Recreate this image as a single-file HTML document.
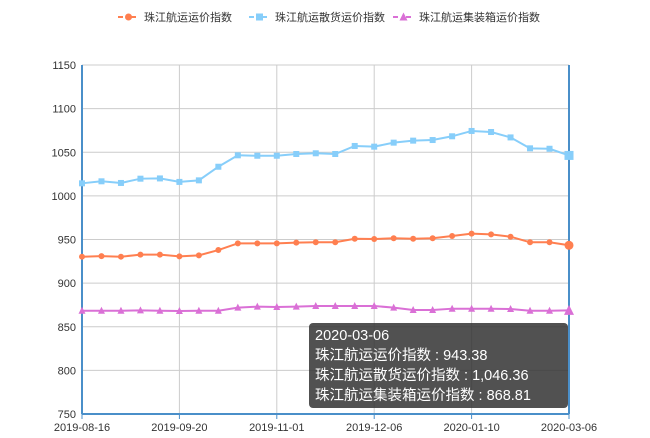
<!DOCTYPE html>
<html><head><meta charset="utf-8">
<style>
html,body{margin:0;padding:0;background:#fff;}
body{width:650px;height:438px;overflow:hidden;position:relative;font-family:"Liberation Sans","Noto Sans CJK SC",sans-serif;}
#tip{position:absolute;left:309px;top:323px;width:259px;height:85px;background:rgba(50,50,50,0.85);border-radius:4px;color:#fff;font-size:14.5px;line-height:20px;padding:3px 0 0 6px;box-sizing:border-box;}
</style></head><body>
<svg id="chart" width="650" height="438" xmlns="http://www.w3.org/2000/svg" style="position:absolute;left:0;top:0;font-family:'Liberation Sans','Noto Sans CJK SC',sans-serif;"></svg>
<div id="tip">2020-03-06<br>珠江航运运价指数 : 943.38<br>珠江航运散货运价指数 : 1,046.36<br>珠江航运集装箱运价指数 : 868.81</div>
<script>
const categories=["2019-08-16","2019-08-23","2019-08-30","2019-09-06","2019-09-13","2019-09-20","2019-09-27","2019-10-11","2019-10-18","2019-10-25","2019-11-01","2019-11-08","2019-11-15","2019-11-22","2019-11-29","2019-12-06","2019-12-13","2019-12-20","2019-12-27","2020-01-03","2020-01-10","2020-01-17","2020-02-14","2020-02-21","2020-02-28","2020-03-06"];
const seriesNames=["珠江航运运价指数","珠江航运散货运价指数","珠江航运集装箱运价指数"];
const overall=[930.3,931,930.3,932.6,932.6,930.7,931.8,937.9,945.6,945.6,945.6,946.4,946.8,946.8,950.9,950.6,951.4,950.9,951.4,954,956.7,955.9,953.2,946.8,946.8,943.38];
const bulk=[1014.4,1016.7,1014.8,1019.7,1020,1016,1017.8,1033.4,1046.5,1046,1046,1048,1048.8,1048,1057.2,1056.4,1061,1063.3,1064,1068.3,1074.4,1073.2,1067,1054.5,1054,1046.36];
const container=[868.4,868.4,868.4,868.8,868.4,868,868.4,868.4,871.9,873,872.6,873,873.8,873.8,873.8,873.8,871.9,869.2,869.2,870.7,870.7,870.7,870.3,868.4,868.4,868.81];
const yTicks=[750,800,850,900,950,1000,1050,1100,1150];
const xTickIdx=[0,5,10,15,20,25];

const svg=document.getElementById('chart');
const NS='http://www.w3.org/2000/svg';
const L=82,R=569,T=65,B=414,yMin=750,yMax=1150;
const x=i=>L+(R-L)*i/(categories.length-1);
const y=v=>B-(B-T)*(v-yMin)/(yMax-yMin);
function mk(tag,attrs){const e=document.createElementNS(NS,tag);for(const k in attrs)e.setAttribute(k,attrs[k]);svg.appendChild(e);return e;}

yTicks.forEach(t=>{
  const g=mk('line',{x1:L,x2:R,y1:y(t),y2:y(t),stroke:'#ccc','stroke-width':1});
  
  
  const tx=mk('text',{x:L-6,y:y(t)+4,'text-anchor':'end','font-size':11,fill:'#333'});
  tx.textContent=t;
  
  
});
xTickIdx.forEach(i=>{
  if(i>0&&i<categories.length-1){
    const g=mk('line',{x1:x(i),x2:x(i),y1:T,y2:B,stroke:'#ccc','stroke-width':1});
    
    
  }
  const tk=mk('line',{x1:x(i),x2:x(i),y1:B,y2:B+5,stroke:'#4a8fc9','stroke-width':1});
  
  
  const tx=mk('text',{x:x(i),y:B+17,'text-anchor':'middle','font-size':11,fill:'#333'});
  tx.textContent=categories[i];
  
  
});
const ya=mk('line',{x1:L,x2:L,y1:T,y2:B,stroke:'#4a8fc9','stroke-width':2});


const xa=mk('line',{x1:L,x2:R,y1:B,y2:B,stroke:'#4a8fc9','stroke-width':2});


const ap=mk('line',{x1:R,x2:R,y1:T,y2:B,stroke:'#4a8fc9','stroke-width':2});



const colors=['#ff7f50','#87cefa','#da70d6'];
const data=[overall,bulk,container];
function marker(type,cx,cy,s,c){
  let e;
  if(type===0)e=mk('circle',{cx:cx,cy:cy,r:s,fill:c});
  else if(type===1)e=mk('rect',{x:cx-s,y:cy-s,width:2*s,height:2*s,fill:c});
  else e=mk('polygon',{points:`${cx},${cy-s-1} ${cx-s-0.5},${cy+s} ${cx+s+0.5},${cy+s}`,fill:c});
  return e;
}
data.forEach((d,si)=>{
  const p=mk('polyline',{points:d.map((v,i)=>x(i)+','+y(v)).join(' '),fill:'none',stroke:colors[si],'stroke-width':2});
  
  
  d.forEach((v,i)=>{
    const last=i===d.length-1;
    const m=marker(si,x(i),y(v),last?4.5:3,colors[si]);
    
    
  });
});
// legend
const legX=[118,249,393];
seriesNames.forEach((n,si)=>{
  const lx=legX[si],ly=17;
  const l=mk('line',{x1:lx,x2:lx+21,y1:ly,y2:ly,stroke:colors[si],'stroke-width':2,'stroke-dasharray':'5,8'});
  
  
  const m=marker(si,lx+10.5,ly,3.5,colors[si]);
  
  
  const t=mk('text',{x:lx+26,y:ly+4,'font-size':11,fill:'#333'});
  t.textContent=n;
  
  
});
</script>
</body></html>
